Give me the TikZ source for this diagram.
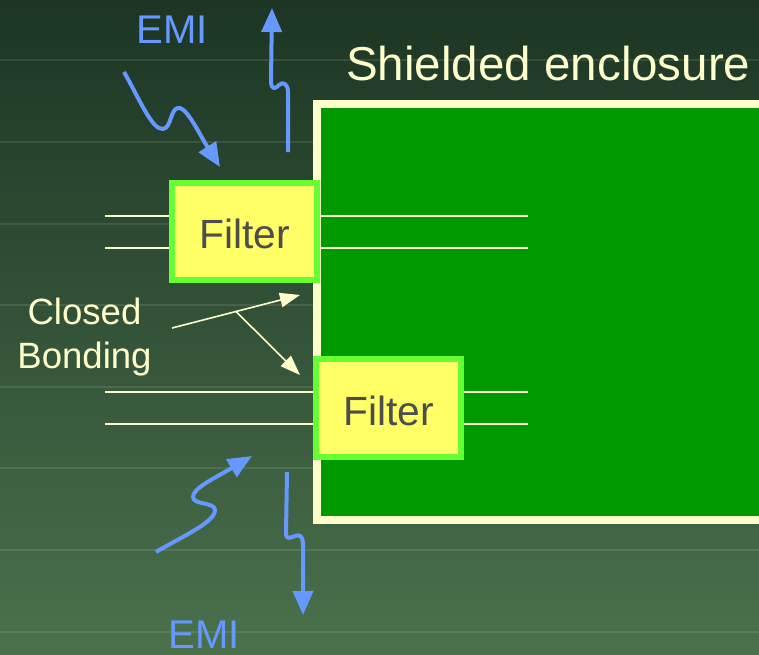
\documentclass[tikz,border=0pt]{standalone}
\usepackage{fontspec}
\setmainfont{Liberation Sans}
\usetikzlibrary{arrows.meta,calc}

\definecolor{bgtop}{HTML}{1C3524}
\definecolor{bgmid}{HTML}{2C4F33}
\definecolor{bgbot}{HTML}{4A714C}
\definecolor{cream}{HTML}{FFFFCC}
\definecolor{boxgreen}{HTML}{009900}
\definecolor{rimgreen}{HTML}{66FF33}
\definecolor{filteryellow}{HTML}{FFFF66}
\definecolor{emiblue}{HTML}{6699FF}
\definecolor{textgray}{HTML}{4D4D4D}

\tikzset{
  filterbox/.style={draw=rimgreen, fill=filteryellow, line width=0.15cm,
    minimum width=3.625cm, minimum height=2.425cm, inner sep=0pt,
    text=textgray, font=\fontsize{29}{35}\selectfont},
  filtertext/.style={yshift=-0.07cm},
  wire/.style={draw=cream, line width=0.05cm},
  emi/.style={draw=emiblue, line width=0.1cm, line join=round,
    -{Triangle[length=0.6cm,width=0.5cm]}},
  bond/.style={draw=cream, line width=0.04cm,
    -{Triangle[length=0.5cm,width=0.36cm]}},
  emilabel/.style={text=emiblue, inner sep=0pt, font=\fontsize{28.5}{34}\selectfont},
  bgline/.style={draw=white, opacity=0.1, line width=0.05cm},
}

\begin{document}
\begin{tikzpicture}[x={(0.025cm,0cm)}, y={(0cm,-0.025cm)}]
    \useasboundingbox (0,0) rectangle (759,654);
    \clip (0,0) rectangle (759,654);

    % Fondo
    \shade[top color=bgtop, middle color=bgmid, bottom color=bgbot] (0,0) rectangle (759,654);
    \foreach \y in {60,142,224,305,387,468,550,632}
        \draw[bgline] (0,\y) -- (759,\y);

    % Shielded enclosure
    \filldraw[draw=cream, fill=boxgreen, line width=0.2cm] (317,104) rectangle (800,519.5);
    \node[anchor=base west, inner sep=0pt, text=cream, font=\fontsize{33.8}{40}\selectfont]
        (title) at (346,80) {Shielded enclosure};

    % Filters
    \node[filterbox] (f1) at (244.5,231.5) {};
    \node[filterbox] (f2) at (388.5,408) {};
    \node[filterbox, draw=none, fill=none, filtertext] (f1text) at (f1) {Filter};
    \node[filterbox, draw=none, fill=none, filtertext] (f2text) at (f2) {Filter};

    % Wires through the filters
    \foreach \dy in {-16,16} {
        \draw[wire] ($(f1.west)+(0,\dy)$) -- ++(-64,0);
        \draw[wire] ($(f1.east)+(0,\dy)$) -- ++(208,0);
        \draw[wire] ($(f2.west)+(0,\dy)$) -- ++(-208,0);
        \draw[wire] ($(f2.east)+(0,\dy)$) -- ++(64,0);
    }

    % Closed bonding
    \node[align=center, inner sep=0pt, text=cream, font=\fontsize{26}{31.3}\selectfont]
        (bonding) at (84.5,337.5) {Closed\\Bonding};
    \coordinate (bondstart) at (172,328);
    \coordinate (bondtip1) at (300,295);
    \coordinate (bondtip2) at (300,375);
    \coordinate (bondfork) at ($(bondstart)!0.5!(bondtip1)$);
    \draw[bond] (bondstart) -- (bondtip1);
    \draw[bond] (bondfork) -- (bondtip2);

    % EMI
    \node[emilabel, anchor=base] (emitop) at (172,43) {EMI};
    \node[emilabel, anchor=base] (emibot) at (204,648) {EMI};

    \coordinate (inA) at (124,72);
    \coordinate (tipA) at (220,167);
    \draw[emi] (inA) .. controls (140,100) and (152,130) .. (163,129)
        .. controls (172,128) and (170,106) .. (180,108)
        .. controls (188,110) and (200,135) .. (tipA);

    \coordinate (outB) at (288,152);
    \coordinate (tipB) at (272,8);
    \draw[emi] (outB) -- (288,92) .. controls (288,84) and (283,81) .. (279,85)
        .. controls (276,88) and (271,92) .. (271,80) -- (tipB);

    \coordinate (inC) at (156,552);
    \coordinate (tipC) at (252,456);
    \draw[emi] (inC) .. controls (185,535) and (215,522) .. (215,510)
        .. controls (215,502) and (193,505) .. (193,497)
        .. controls (193,488) and (215,478) .. (tipC);

    \coordinate (outD) at (287,472);
    \coordinate (tipD) at (303,615);
    \draw[emi] (outD) -- (286,533) .. controls (286,540) and (290,538) .. (295,536)
        .. controls (300,534) and (303,536) .. (303,545) -- (tipD);
\end{tikzpicture}
\end{document}
